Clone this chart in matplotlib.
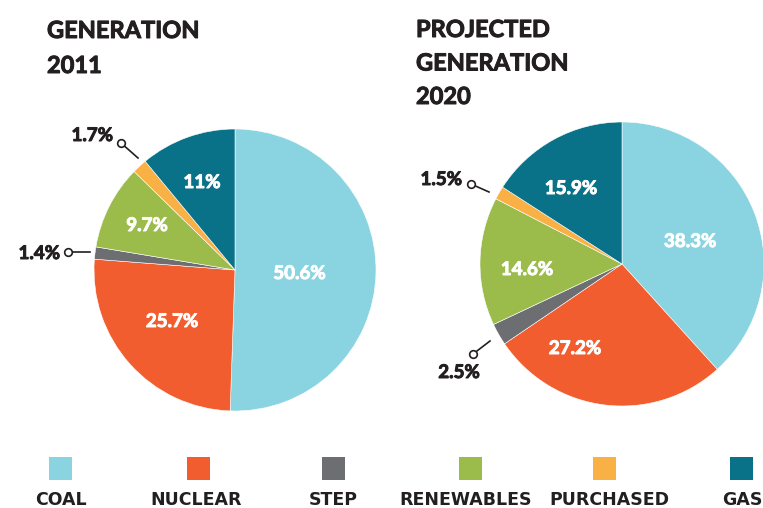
import numpy as np
import matplotlib.pyplot as plt
import matplotlib.patheffects as pe

W, H = 763, 508

sources = ['COAL', 'NUCLEAR', 'STEP', 'RENEWABLES', 'PURCHASED', 'GAS']
colors = ['#8ad4e2', '#f15d2f', '#6d6e72', '#9bbc4b', '#f9b045', '#0a7288']

share_2011 = [50.6, 25.7, 1.4, 9.7, 1.7, 11.0]
labels_2011 = ['50.6%', '25.7%', '1.4%', '9.7%', '1.7%', '11%']
share_2020 = [38.3, 27.2, 2.5, 14.6, 1.5, 15.9]
labels_2020 = ['38.3%', '27.2%', '2.5%', '14.6%', '1.5%', '15.9%']

plt.rcParams['font.family'] = ['Lato', 'DejaVu Sans']
dark = '#231f20'

fig = plt.figure(figsize=(W / 100, H / 100), dpi=100)
ax = fig.add_axes([0, 0, 1, 1])
ax.axis('off')


def py(y):
    # pixel row -> data y
    return H - y


def heavy(c):
    # fake a heavier weight with a thin stroke of the same colour
    return [pe.withStroke(linewidth=0.7, foreground=c)]


def draw_pie(vals, labels, center, r, inside, callouts):
    ax.pie(vals, colors=colors, startangle=90, counterclock=False,
           center=(center[0], py(center[1])), radius=r, normalize=True,
           wedgeprops=dict(edgecolor='white', linewidth=0.4))
    # inside labels: (x centre, baseline)
    for i, pos in inside.items():
        ax.text(pos[0], py(pos[1]), labels[i], color='white', fontsize=13.5,
                fontweight='bold', ha='center', va='baseline',
                path_effects=heavy('white'))
    for i, (txt, circ, end, ha) in callouts.items():
        ax.plot([circ[0], end[0]], [py(circ[1]), py(end[1])], color=dark, lw=1.2)
        ax.plot(circ[0], py(circ[1]), 'o', ms=5.5, mfc='white', mec=dark, mew=1.2)
        ax.text(txt[0], py(txt[1]), labels[i], color=dark, fontsize=13.5,
                fontweight='bold', ha=ha, va='baseline', path_effects=heavy(dark))


draw_pie(share_2011, labels_2011, (235, 270), 141,
         {0: (299.5, 279), 1: (172, 327), 3: (147, 231), 5: (202, 188)},
         {4: ((113, 141), (121, 143), (138, 158), 'right'),
          2: ((60, 259), (68, 252), (90, 252), 'right')})

draw_pie(share_2020, labels_2020, (622, 264), 142,
         {0: (690, 247), 1: (575, 354), 3: (527, 275), 5: (571, 194)},
         {4: ((462, 185), (471, 184), (489, 192), 'right'),
          2: ((459, 378), (473, 354), (490, 341), 'center')})

title_kw = dict(color=dark, fontsize=17, fontweight='bold', ha='left',
                va='baseline', path_effects=heavy(dark))
ax.text(47, py(38), 'GENERATION', **title_kw)
ax.text(47, py(73), '2011', **title_kw)
for line, base in zip(['PROJECTED', 'GENERATION', '2020'], [37, 70.5, 104]):
    ax.text(416, py(base), line, **title_kw)

# legend
leg_x = [60.5, 198.5, 333.5, 470.5, 604.5, 741.5]
txt_x = [60.5, 196.5, 333.5, 466, 609.5, 742]
for x, tx, name, c in zip(leg_x, txt_x, sources, colors):
    ax.add_patch(plt.Rectangle((x - 11.5, py(480)), 23, 23, color=c, lw=0))
    ax.text(tx, py(505), name, color=dark, fontsize=12.5, fontweight='bold',
            family='DejaVu Sans', ha='center', va='baseline')

ax.set_aspect('equal')
ax.set_xlim(0, W)
ax.set_ylim(0, H)
fig.savefig('out.png', dpi=100)
